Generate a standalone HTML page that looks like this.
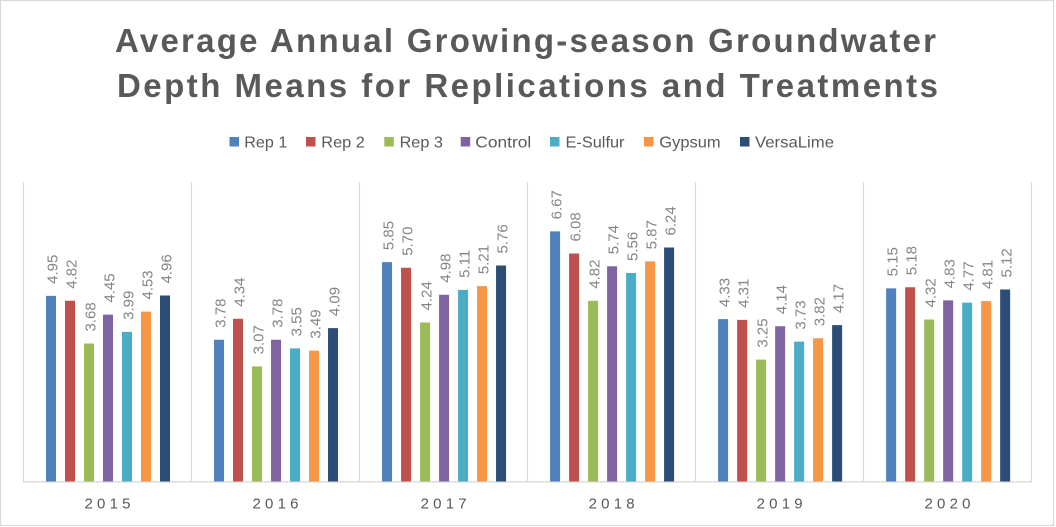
<!DOCTYPE html>
<html>
<head>
<meta charset="utf-8">
<style>
  html, body { margin: 0; padding: 0; background: #ffffff; }
  body { width: 1056px; height: 527px; overflow: hidden; }
  svg { display: block; }
  .title { font-family: "Liberation Sans", Arial, sans-serif; font-weight: bold; font-size: 33px; fill: #595959; }
  .leg { font-family: "Liberation Sans", Arial, sans-serif; font-size: 16px; fill: #595959; }
  .cat { font-family: "Liberation Sans", Arial, sans-serif; font-size: 15px; fill: #595959; }
  .lbl { font-family: "Liberation Sans", Arial, sans-serif; font-size: 15px; fill: #858585; }
</style>
</head>
<body>
<svg width="1056" height="527" viewBox="0 0 1056 527" xmlns="http://www.w3.org/2000/svg">
  <rect x="0" y="0" width="1056" height="527" fill="#ffffff"/>
  <rect x="0.5" y="0.5" width="1053" height="525" fill="none" stroke="#d9d9d9" stroke-width="1.2"/>

  <!-- Title -->
  <text class="title" x="115" y="52" textLength="821" lengthAdjust="spacing">Average Annual Growing-season Groundwater</text>
  <text class="title" x="117" y="97" textLength="821" lengthAdjust="spacing">Depth Means for Replications and Treatments</text>

  <!-- Legend -->
  <rect x="229.5" y="137" width="9.5" height="9.5" fill="#4f81bd"/>
  <text class="leg" x="244.3" y="147.5" textLength="43" lengthAdjust="spacingAndGlyphs">Rep 1</text>
  <rect x="306" y="137" width="9.5" height="9.5" fill="#c0504d"/>
  <text class="leg" x="321.3" y="147.5" textLength="43.5" lengthAdjust="spacingAndGlyphs">Rep 2</text>
  <rect x="384.3" y="137" width="9.5" height="9.5" fill="#9bbb59"/>
  <text class="leg" x="399.6" y="147.5" textLength="43.3" lengthAdjust="spacingAndGlyphs">Rep 3</text>
  <rect x="460.7" y="137" width="9.5" height="9.5" fill="#8064a2"/>
  <text class="leg" x="475.3" y="147.5" textLength="56" lengthAdjust="spacingAndGlyphs">Control</text>
  <rect x="550" y="137" width="9.5" height="9.5" fill="#4bacc6"/>
  <text class="leg" x="565.5" y="147.5" textLength="59" lengthAdjust="spacingAndGlyphs">E-Sulfur</text>
  <rect x="644" y="137" width="9.5" height="9.5" fill="#f79646"/>
  <text class="leg" x="659.3" y="147.5" textLength="61.3" lengthAdjust="spacingAndGlyphs">Gypsum</text>
  <rect x="740" y="137" width="9.5" height="9.5" fill="#2c4d75"/>
  <text class="leg" x="755" y="147.5" textLength="79" lengthAdjust="spacingAndGlyphs">VersaLime</text>

  <!-- Category separators and axis -->
  <g stroke="#d9d9d9" stroke-width="1.2">
    <line x1="23.5" y1="182" x2="23.5" y2="482"/>
    <line x1="191.5" y1="182" x2="191.5" y2="482"/>
    <line x1="359.5" y1="182" x2="359.5" y2="482"/>
    <line x1="527.5" y1="182" x2="527.5" y2="482"/>
    <line x1="695.5" y1="182" x2="695.5" y2="482"/>
    <line x1="863.5" y1="182" x2="863.5" y2="482"/>
    <line x1="1031.5" y1="182" x2="1031.5" y2="482"/>
    <line x1="23" y1="481.8" x2="1032" y2="481.8" stroke-width="1.4"/>
  </g>

  <!-- 2015 -->
  <g transform="translate(46,0)">
    <rect x="0" y="295.875" width="10" height="185.625" fill="#4f81bd"/>
    <rect x="19" y="300.75" width="10" height="180.75" fill="#c0504d"/>
    <rect x="38" y="343.5" width="10" height="138" fill="#9bbb59"/>
    <rect x="57" y="314.625" width="10" height="166.875" fill="#8064a2"/>
    <rect x="76" y="331.875" width="10" height="149.625" fill="#4bacc6"/>
    <rect x="95" y="311.625" width="10" height="169.875" fill="#f79646"/>
    <rect x="114" y="295.5" width="10" height="186" fill="#2c4d75"/>
    <text class="lbl" transform="translate(11.3,283.9) rotate(-90)">4.95</text>
    <text class="lbl" transform="translate(30.3,288.75) rotate(-90)">4.82</text>
    <text class="lbl" transform="translate(49.3,331.5) rotate(-90)">3.68</text>
    <text class="lbl" transform="translate(68.3,302.6) rotate(-90)">4.45</text>
    <text class="lbl" transform="translate(87.3,319.9) rotate(-90)">3.99</text>
    <text class="lbl" transform="translate(106.3,299.6) rotate(-90)">4.53</text>
    <text class="lbl" transform="translate(125.3,283.5) rotate(-90)">4.96</text>
  </g>

  <!-- 2016 -->
  <g transform="translate(214.03,0)">
    <rect x="0" y="339.75" width="10" height="141.75" fill="#4f81bd"/>
    <rect x="19" y="318.75" width="10" height="162.75" fill="#c0504d"/>
    <rect x="38" y="366.375" width="10" height="115.125" fill="#9bbb59"/>
    <rect x="57" y="339.75" width="10" height="141.75" fill="#8064a2"/>
    <rect x="76" y="348.375" width="10" height="133.125" fill="#4bacc6"/>
    <rect x="95" y="350.625" width="10" height="130.875" fill="#f79646"/>
    <rect x="114" y="328.125" width="10" height="153.375" fill="#2c4d75"/>
    <text class="lbl" transform="translate(11.3,327.75) rotate(-90)">3.78</text>
    <text class="lbl" transform="translate(30.3,306.75) rotate(-90)">4.34</text>
    <text class="lbl" transform="translate(49.3,354.4) rotate(-90)">3.07</text>
    <text class="lbl" transform="translate(68.3,327.75) rotate(-90)">3.78</text>
    <text class="lbl" transform="translate(87.3,336.4) rotate(-90)">3.55</text>
    <text class="lbl" transform="translate(106.3,338.6) rotate(-90)">3.49</text>
    <text class="lbl" transform="translate(125.3,316.1) rotate(-90)">4.09</text>
  </g>

  <!-- 2017 -->
  <g transform="translate(382.06,0)">
    <rect x="0" y="262.125" width="10" height="219.375" fill="#4f81bd"/>
    <rect x="19" y="267.75" width="10" height="213.75" fill="#c0504d"/>
    <rect x="38" y="322.5" width="10" height="159" fill="#9bbb59"/>
    <rect x="57" y="294.75" width="10" height="186.75" fill="#8064a2"/>
    <rect x="76" y="289.875" width="10" height="191.625" fill="#4bacc6"/>
    <rect x="95" y="286.125" width="10" height="195.375" fill="#f79646"/>
    <rect x="114" y="265.5" width="10" height="216" fill="#2c4d75"/>
    <text class="lbl" transform="translate(11.3,250.1) rotate(-90)">5.85</text>
    <text class="lbl" transform="translate(30.3,255.75) rotate(-90)">5.70</text>
    <text class="lbl" transform="translate(49.3,310.5) rotate(-90)">4.24</text>
    <text class="lbl" transform="translate(68.3,282.75) rotate(-90)">4.98</text>
    <text class="lbl" transform="translate(87.3,277.9) rotate(-90)">5.11</text>
    <text class="lbl" transform="translate(106.3,274.1) rotate(-90)">5.21</text>
    <text class="lbl" transform="translate(125.3,253.5) rotate(-90)">5.76</text>
  </g>

  <!-- 2018 -->
  <g transform="translate(550.09,0)">
    <rect x="0" y="231.375" width="10" height="250.125" fill="#4f81bd"/>
    <rect x="19" y="253.5" width="10" height="228" fill="#c0504d"/>
    <rect x="38" y="300.75" width="10" height="180.75" fill="#9bbb59"/>
    <rect x="57" y="266.25" width="10" height="215.25" fill="#8064a2"/>
    <rect x="76" y="273" width="10" height="208.5" fill="#4bacc6"/>
    <rect x="95" y="261.375" width="10" height="220.125" fill="#f79646"/>
    <rect x="114" y="247.5" width="10" height="234" fill="#2c4d75"/>
    <text class="lbl" transform="translate(11.3,219.4) rotate(-90)">6.67</text>
    <text class="lbl" transform="translate(30.3,241.5) rotate(-90)">6.08</text>
    <text class="lbl" transform="translate(49.3,288.75) rotate(-90)">4.82</text>
    <text class="lbl" transform="translate(68.3,254.25) rotate(-90)">5.74</text>
    <text class="lbl" transform="translate(87.3,261) rotate(-90)">5.56</text>
    <text class="lbl" transform="translate(106.3,249.4) rotate(-90)">5.87</text>
    <text class="lbl" transform="translate(125.3,235.5) rotate(-90)">6.24</text>
  </g>

  <!-- 2019 -->
  <g transform="translate(718.12,0)">
    <rect x="0" y="319.125" width="10" height="162.375" fill="#4f81bd"/>
    <rect x="19" y="319.875" width="10" height="161.625" fill="#c0504d"/>
    <rect x="38" y="359.625" width="10" height="121.875" fill="#9bbb59"/>
    <rect x="57" y="326.25" width="10" height="155.25" fill="#8064a2"/>
    <rect x="76" y="341.625" width="10" height="139.875" fill="#4bacc6"/>
    <rect x="95" y="338.25" width="10" height="143.25" fill="#f79646"/>
    <rect x="114" y="325.125" width="10" height="156.375" fill="#2c4d75"/>
    <text class="lbl" transform="translate(11.3,307.1) rotate(-90)">4.33</text>
    <text class="lbl" transform="translate(30.3,307.9) rotate(-90)">4.31</text>
    <text class="lbl" transform="translate(49.3,347.6) rotate(-90)">3.25</text>
    <text class="lbl" transform="translate(68.3,314.25) rotate(-90)">4.14</text>
    <text class="lbl" transform="translate(87.3,329.6) rotate(-90)">3.73</text>
    <text class="lbl" transform="translate(106.3,326.25) rotate(-90)">3.82</text>
    <text class="lbl" transform="translate(125.3,313.1) rotate(-90)">4.17</text>
  </g>

  <!-- 2020 -->
  <g transform="translate(886.15,0)">
    <rect x="0" y="288.375" width="10" height="193.125" fill="#4f81bd"/>
    <rect x="19" y="287.25" width="10" height="194.25" fill="#c0504d"/>
    <rect x="38" y="319.5" width="10" height="162" fill="#9bbb59"/>
    <rect x="57" y="300.375" width="10" height="181.125" fill="#8064a2"/>
    <rect x="76" y="302.625" width="10" height="178.875" fill="#4bacc6"/>
    <rect x="95" y="301.125" width="10" height="180.375" fill="#f79646"/>
    <rect x="114" y="289.5" width="10" height="192" fill="#2c4d75"/>
    <text class="lbl" transform="translate(11.3,276.4) rotate(-90)">5.15</text>
    <text class="lbl" transform="translate(30.3,275.25) rotate(-90)">5.18</text>
    <text class="lbl" transform="translate(49.3,307.5) rotate(-90)">4.32</text>
    <text class="lbl" transform="translate(68.3,288.4) rotate(-90)">4.83</text>
    <text class="lbl" transform="translate(87.3,290.6) rotate(-90)">4.77</text>
    <text class="lbl" transform="translate(106.3,289.1) rotate(-90)">4.81</text>
    <text class="lbl" transform="translate(125.3,277.5) rotate(-90)">5.12</text>
  </g>

  <!-- Category labels -->
  <text class="cat" x="84.5" y="508.3" textLength="46" lengthAdjust="spacing">2015</text>
  <text class="cat" x="252.5" y="508.3" textLength="46" lengthAdjust="spacing">2016</text>
  <text class="cat" x="420.6" y="508.3" textLength="46" lengthAdjust="spacing">2017</text>
  <text class="cat" x="588.6" y="508.3" textLength="46" lengthAdjust="spacing">2018</text>
  <text class="cat" x="756.6" y="508.3" textLength="46" lengthAdjust="spacing">2019</text>
  <text class="cat" x="924.5" y="508.3" textLength="46" lengthAdjust="spacing">2020</text>
</svg>
</body>
</html>
